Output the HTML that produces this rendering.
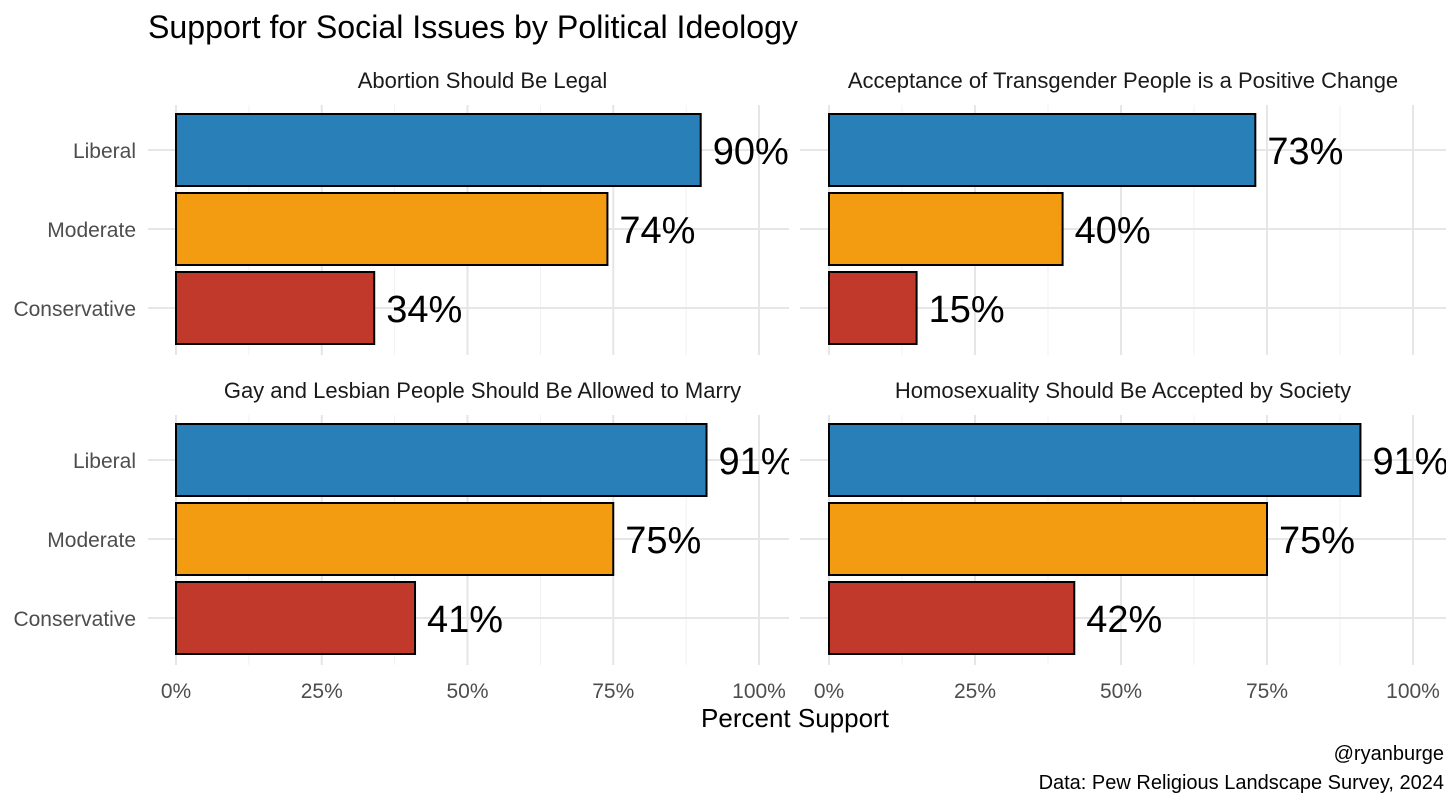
<!DOCTYPE html>
<html><head><meta charset="utf-8"><style>
html,body{margin:0;padding:0;background:#fff}
svg{display:block;font-family:"Liberation Sans Narrow","Liberation Sans",sans-serif}
</style></head><body>
<svg id="chart" width="1456" height="809" viewBox="0 0 1456 809">
<text x="148" y="38" font-size="32" fill="#000" textLength="650" lengthAdjust="spacingAndGlyphs">Support for Social Issues by Political Ideology</text>
<text x="795" y="727" font-size="26" text-anchor="middle" fill="#000">Percent Support</text>
<text x="1444" y="760" font-size="20" text-anchor="end" fill="#000">@ryanburge</text>
<text x="1444" y="789" font-size="20" text-anchor="end" fill="#000">Data: Pew Religious Landscape Survey, 2024</text>
</svg>
<script>
const panelTitles = ["Abortion Should Be Legal","Acceptance of Transgender People is a Positive Change","Gay and Lesbian People Should Be Allowed to Marry","Homosexuality Should Be Accepted by Society"];
const categories = ["Liberal","Moderate","Conservative"];
const valuesAbortion = [90,74,34];
const valuesTrans = [73,40,15];
const valuesMarriage = [91,75,41];
const valuesHomosexuality = [91,75,42];
const tickValues = [0,25,50,75,100];
const tickLabels = ["0%","25%","50%","75%","100%"];

const series = [valuesAbortion, valuesTrans, valuesMarriage, valuesHomosexuality];
const colors = ["#2980b9","#f39c12","#c0392b"];
const NS = "http://www.w3.org/2000/svg";
const svg = document.getElementById("chart");
function mk(tag, attrs, parent){const e=document.createElementNS(NS,tag);for(const k in attrs)e.setAttribute(k,attrs[k]);(parent||svg).appendChild(e);return e;}

const panels = [
 {x0:176,x1:759,left:148,right:789,top:105,bottom:355,rowY:150},
 {x0:829,x1:1413,left:800,right:1446,top:105,bottom:355,rowY:150},
 {x0:176,x1:759,left:148,right:789,top:415,bottom:665,rowY:460},
 {x0:829,x1:1413,left:800,right:1446,top:415,bottom:665,rowY:460}
];
const rowStep = 79, barH = 72;

panels.forEach((p,i)=>{
  const xs = v => p.x0 + (p.x1-p.x0)*v/100;
  const ys = j => p.rowY + j*rowStep;
  const g = mk("g",{});
  
  
  const cid="clip"+i;
  const cp = mk("clipPath",{id:cid},g);
  mk("rect",{x:p.left,y:p.top-10,width:p.right-p.left,height:p.bottom-p.top+20},cp);
  for(let k=0;k<tickValues.length-1;k++){
    const v=(tickValues[k]+tickValues[k+1])/2;
    mk("line",{x1:xs(v),x2:xs(v),y1:p.top,y2:p.bottom,stroke:"#f1f1f1","stroke-width":1},g);
  }
  tickValues.forEach(v=>{
    mk("line",{x1:xs(v),x2:xs(v),y1:p.top,y2:p.bottom,stroke:"#e6e6e6","stroke-width":2},g);
  });
  categories.forEach((c,j)=>{
    mk("line",{x1:p.left,x2:p.right,y1:ys(j),y2:ys(j),stroke:"#e6e6e6","stroke-width":2},g);
  });
  const t = mk("text",{x:(p.left+p.right)/2+ (i%2==0?14:0),y:p.top-17,"font-size":22,"text-anchor":"middle",fill:"#1a1a1a"},g);
  t.textContent = panelTitles[i];
  
  
  if(i%2==0){
    categories.forEach((c,j)=>{
      const l = mk("text",{x:136,y:ys(j)+8,"font-size":21,"text-anchor":"end",fill:"#4d4d4d"},g);
      l.textContent=c;
      
      
    });
  }
  if(i>=2){
    tickValues.forEach((v,k)=>{
      const l = mk("text",{x:xs(v),y:p.bottom+33,"font-size":21,"text-anchor":"middle",fill:"#4d4d4d"},g);
      l.textContent=tickLabels[k];
      
      
    });
  }
  const bg = mk("g",{"clip-path":"url(#"+cid+")"},g);
  series[i].forEach((v,j)=>{
    const r = mk("rect",{x:xs(0),y:ys(j)-barH/2,width:xs(v)-xs(0),height:barH,fill:colors[j],stroke:"#000","stroke-width":2},bg);
    
    
    const l = mk("text",{x:xs(v)+12,y:ys(j)+14,"font-size":38,fill:"#000"},bg);
    l.textContent=v+"%";
    
    
  });
});
</script>
</body></html>
